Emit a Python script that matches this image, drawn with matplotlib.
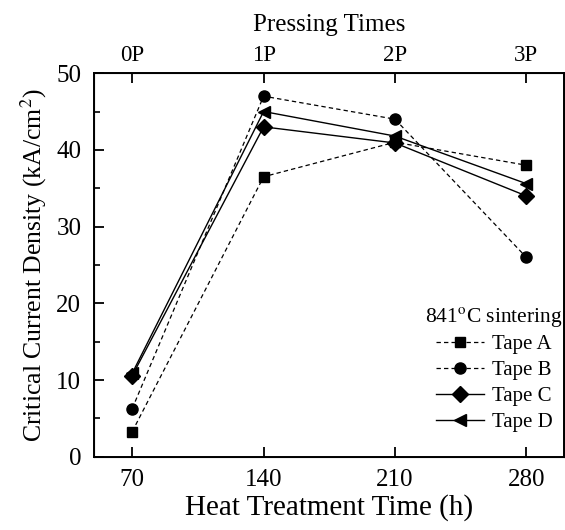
import matplotlib
matplotlib.use("Agg")
import matplotlib.pyplot as plt
from matplotlib.ticker import MultipleLocator

plt.rcParams['font.family'] = ['Liberation Serif', 'DejaVu Serif']
plt.rcParams['mathtext.fontset'] = 'stix'

# ---- Data ----
hours = [70, 140, 210, 280]
press_labels = ["0P", "1P", "2P", "3P"]
tape_a = [3.3, 36.5, 41.0, 38.0]
tape_b = [6.3, 47.0, 44.0, 26.0]
tape_c = [10.6, 43.0, 40.9, 34.0]
tape_d = [10.9, 45.0, 41.8, 35.6]

fig = plt.figure(figsize=(5.65, 5.3), dpi=100)
ax = fig.add_axes([0.166, 0.138, 0.832, 0.724])

dash = (0, (3.5, 2.5))
ax.plot(hours, tape_a, color='black', lw=0.9, ls=dash, marker='s', ms=7, label='Tape A')
ax.plot(hours, tape_b, color='black', lw=0.9, ls=dash, marker='o', ms=8, label='Tape B')
ax.plot(hours, tape_c, color='black', lw=1.0, ls='-', marker='D', ms=8, label='Tape C')
ax.plot(hours, tape_d, color='black', lw=1.0, ls='-', marker='<', ms=9, label='Tape D')

ax.set_xlim(49.5, 300)
ax.set_ylim(0, 50)
ax.set_xticks(hours)
ax.yaxis.set_major_locator(MultipleLocator(10))
ax.yaxis.set_minor_locator(MultipleLocator(5))
ax.tick_params(axis='both', which='both', direction='in', labelsize=18, pad=9)
ax.tick_params(which='major', length=7, width=1.3)
ax.tick_params(which='minor', length=4, width=1.2)
for s in ax.spines.values():
    s.set_linewidth(1.4)

ax.set_xlabel("Heat Treatment Time (h)", fontsize=21, labelpad=2)
ax.set_ylabel("Critical Current Density (kA/cm$^2$)", fontsize=18.5, labelpad=5)

# top axis: pressing times
top = ax.twiny()
top.set_xlim(ax.get_xlim())
top.set_xticks(hours)
top.set_xticklabels(press_labels)
top.tick_params(axis='x', direction='in', length=7, width=1.3, labelsize=16.5, pad=5)
top.set_xlabel("Pressing Times", fontsize=18, labelpad=10)

leg = ax.legend(loc='lower right', bbox_to_anchor=(0.998, 0.065), frameon=False,
                fontsize=15, title="841$^{\\mathrm{o}}$C sintering", title_fontsize=15.5,
                handlelength=2.3, handletextpad=0.38, labelspacing=0.3,
                borderaxespad=0, borderpad=0)

fig.savefig("out.png", dpi=100)
